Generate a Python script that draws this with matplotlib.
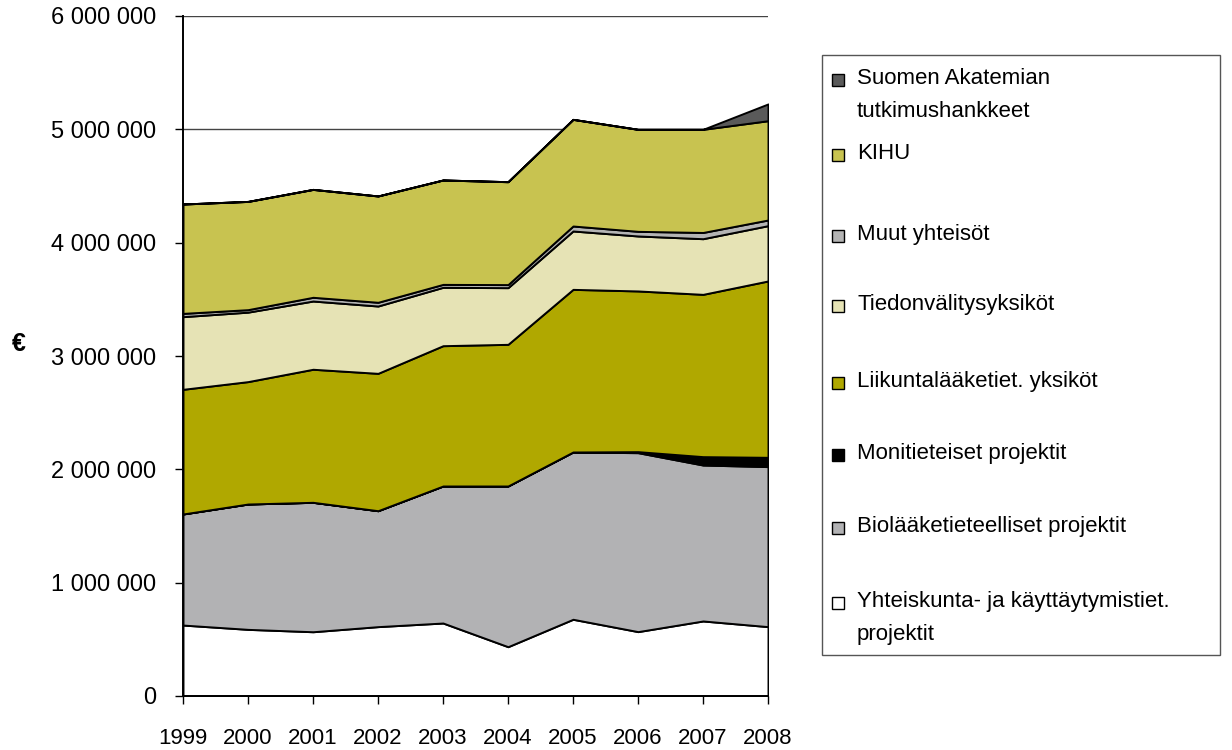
import matplotlib
matplotlib.use("Agg")
import matplotlib.pyplot as plt
from matplotlib.patches import Rectangle
from matplotlib.ticker import FuncFormatter
import numpy as np

plt.rcParams["font.family"] = ["Liberation Sans", "DejaVu Sans"]

years = [1999, 2000, 2001, 2002, 2003, 2004, 2005, 2006, 2007, 2008]

# values in millions of euros, bottom to top
yhteiskunta = [0.626, 0.588, 0.567, 0.612, 0.644, 0.435, 0.677, 0.568, 0.662, 0.612]
biolaake = [0.980, 1.106, 1.142, 1.023, 1.209, 1.418, 1.476, 1.579, 1.376, 1.412]
monitieteiset = [0, 0, 0, 0, 0, 0, 0, 0.009, 0.074, 0.082]
liikunta = [1.100, 1.080, 1.174, 1.212, 1.238, 1.250, 1.435, 1.418, 1.432, 1.556]
tiedonvalitys = [0.641, 0.613, 0.602, 0.594, 0.515, 0.500, 0.515, 0.485, 0.491, 0.488]
muut = [0.029, 0.022, 0.033, 0.033, 0.026, 0.027, 0.044, 0.041, 0.055, 0.050]
kihu = [0.965, 0.955, 0.952, 0.938, 0.921, 0.908, 0.941, 0.900, 0.910, 0.876]
suomen_akatemia = [0, 0, 0, 0, 0, 0, 0, 0, 0, 0.148]

series = [yhteiskunta, biolaake, monitieteiset, liikunta, tiedonvalitys, muut, kihu, suomen_akatemia]
labels = [
    "Yhteiskunta- ja käyttäytymistiet.\nprojektit",
    "Biolääketieteelliset projektit",
    "Monitieteiset projektit",
    "Liikuntalääketiet. yksiköt",
    "Tiedonvälitysyksiköt",
    "Muut yhteisöt",
    "KIHU",
    "Suomen Akatemian\ntutkimushankkeet",
]
colors = ["#FFFFFF", "#B2B2B4", "#000000", "#B0A800", "#E6E3B5", "#B4B4B4", "#C8C350", "#5A5A5A"]

W, H = 1232, 750
fig = plt.figure(figsize=(W / 100, H / 100), dpi=100)
ax = fig.add_axes([183 / W, 1 - 696 / H, (768 - 183) / W, (696 - 16) / H])

data = np.array(series) * 1e6
ax.stackplot(years, data, colors=colors, edgecolor="black", linewidth=1.4, zorder=2)

ax.set_xlim(1999, 2008)
ax.set_ylim(0, 6e6)
ax.set_xticks(years)
ax.set_yticks(np.arange(0, 6.01e6, 1e6))
ax.yaxis.set_major_formatter(FuncFormatter(lambda v, p: f"{int(v):,}".replace(",", " ")))
ax.grid(axis="y", color="#444444", linewidth=1, zorder=0)
ax.set_axisbelow(True)
for s in ["top", "right"]:
    ax.spines[s].set_visible(False)
for s in ["left", "bottom"]:
    ax.spines[s].set_linewidth(1.4)
ax.tick_params(axis="both", direction="out", length=6, width=1)
ax.tick_params(axis="y", pad=13, labelsize=17)
ax.tick_params(axis="x", pad=17, labelsize=16)
ax.set_ylabel("€", fontsize=18, fontweight="bold", rotation=0, labelpad=0)
ax.yaxis.set_label_coords(-0.28, 0.5)

# legend box
fig.patches.append(Rectangle((822 / W, 1 - 655 / H), (1220 - 822) / W, (655 - 55) / H,
                             transform=fig.transFigure, facecolor="white",
                             edgecolor="#555555", linewidth=1))
label_y = [603, 528, 455, 383, 306, 236, 155, 80]
for lab, col, yy in zip(labels, colors, label_y):
    fig.patches.append(Rectangle((832 / W, 1 - (yy + 6) / H), 12 / W, 12 / H,
                                 transform=fig.transFigure, facecolor=col,
                                 edgecolor="black", linewidth=1))
    fig.text(857 / W, 1 - (yy - 12) / H, lab, fontsize=16, va="top", ha="left",
             linespacing=1.78)

fig.savefig("out.png", dpi=100)
